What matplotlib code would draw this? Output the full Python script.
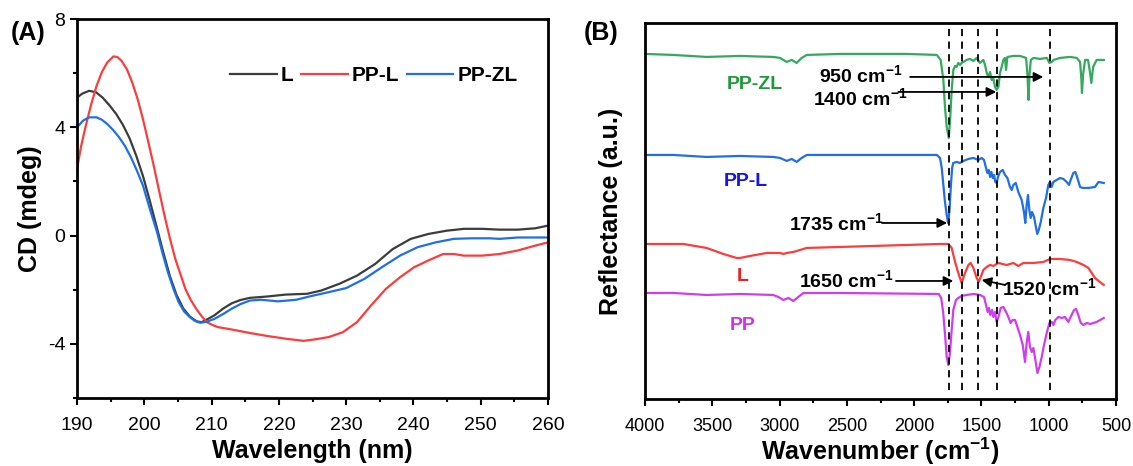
from matplotlib import pyplot as plt
from matplotlib.ticker import MultipleLocator
import numpy as np

plt.rcParams['font.family'] = ['Liberation Sans', 'DejaVu Sans']
plt.rcParams['axes.unicode_minus'] = False
plt.rcParams['mathtext.fontset'] = 'custom'
plt.rcParams['mathtext.rm'] = 'Liberation Sans'
plt.rcParams['mathtext.bf'] = 'Liberation Sans:bold'
plt.rcParams['mathtext.it'] = 'Liberation Sans:italic'

# ---- (A) CD spectra ----
wl_L = [190, 190.8, 191.8, 192.8, 193.8, 194.8, 195.8, 196.8, 197.8, 198.8, 199.8, 200.8,
        201.8, 202.8, 203.8, 204.8, 205.8, 206.8, 207.8, 208.5, 209.3, 210.4, 211.7, 213,
        214.3, 215.7, 218.3, 221, 224.2, 226.3, 229, 231.6, 234.3, 236.9, 239.6, 242.2,
        244.9, 247.5, 250.2, 252.8, 255.5, 258.1, 260]
cd_L = [5.1, 5.25, 5.35, 5.3, 5.1, 4.82, 4.5, 4.1, 3.6, 2.95, 2.2, 1.3,
        0.35, -0.6, -1.5, -2.2, -2.7, -3.0, -3.17, -3.2, -3.1, -2.95, -2.7, -2.5,
        -2.38, -2.3, -2.25, -2.18, -2.15, -2.03, -1.78, -1.48, -1.05, -0.5, -0.12, 0.06,
        0.18, 0.25, 0.25, 0.22, 0.22, 0.27, 0.37]

wl_PPL = [190, 190.6, 191.3, 192.1, 192.9, 193.7, 194.5, 195.4, 196.0, 196.6, 197.4, 198.2,
          199.0, 199.8, 200.6, 201.4, 202.2, 203, 203.8, 204.6, 205.4, 206.1, 206.9, 207.7,
          208.5, 209.3, 210.1, 210.9, 213, 215.7, 218.3, 221, 223.7, 225.2, 227.4, 229.5,
          231.6, 233.7, 235.9, 238, 240.1, 242.2, 244.4, 246, 247.5, 250.2, 252.8, 255.5,
          258.1, 260]
cd_PPL = [2.46, 3.3, 4.06, 4.85, 5.53, 6.05, 6.4, 6.62, 6.6, 6.46, 6.15, 5.66,
          5.05, 4.3, 3.45, 2.58, 1.65, 0.74, -0.1, -0.86, -1.45, -1.97, -2.38, -2.7,
          -2.97, -3.2, -3.3, -3.38, -3.47, -3.6, -3.71, -3.81, -3.89, -3.84, -3.75, -3.57,
          -3.2, -2.58, -1.97, -1.54, -1.17, -0.92, -0.68, -0.68, -0.74, -0.74, -0.68, -0.55,
          -0.37, -0.25]

wl_PPZL = [190, 190.9, 191.8, 192.9, 193.7, 194.5, 195.3, 196.2, 197.1, 198.0, 198.9, 199.8,
           200.8, 201.9, 202.7, 203.5, 204.3, 205.1, 205.9, 206.7, 207.5, 208.3, 209.3, 210.4,
           211.7, 213, 214.3, 215.7, 217.3, 219.9, 222.6, 224.7, 227.4, 230, 232.7, 235.3,
           238, 240.6, 243.3, 246, 248.6, 251.3, 252.8, 255.5, 260]
cd_PPZL = [4.0, 4.25, 4.37, 4.37, 4.28, 4.12, 3.92, 3.65, 3.32, 2.9, 2.4, 1.85,
           1.0, 0.12, -0.65, -1.35, -1.95, -2.46, -2.8, -3.0, -3.15, -3.22, -3.18, -3.08,
           -2.9, -2.7, -2.53, -2.4, -2.37, -2.43, -2.37, -2.24, -2.09, -1.94, -1.6, -1.17,
           -0.74, -0.43, -0.25, -0.12, -0.1, -0.1, -0.12, -0.07, -0.07]

# ---- (B) FTIR spectra (offset, a.u.) ----
wn_PPZL = [4000, 3790, 3542, 3294, 3047, 2997, 2947, 2910, 2873, 2836, 2798, 2551, 2055, 1832,
           1803, 1783, 1771, 1758, 1743, 1734, 1721, 1709, 1696, 1684, 1672, 1659, 1647, 1634,
           1610, 1585, 1560, 1535, 1511, 1486, 1473, 1461, 1449, 1436, 1424, 1412, 1399, 1387,
           1374, 1362, 1350, 1337, 1325, 1317, 1307, 1262, 1213, 1168, 1158, 1150, 1143, 1133,
           1113, 1064, 1014, 995, 977, 964, 915, 842, 792, 767, 757, 753, 745, 730, 708, 696,
           683, 670, 644, 591]
r_PPZL = [346, 345, 343, 344, 343, 342, 338, 340, 337, 342, 345, 346, 346, 345,
          340, 320, 293, 273, 262, 277, 310, 330, 334, 333, 337, 335, 337, 338,
          340, 341, 339, 342, 337, 340, 335, 327, 323, 328, 320, 322, 313, 310,
          313, 327, 333, 340, 342, 330, 343, 344, 344, 342, 325, 300, 325, 340,
          342, 341, 342, 337, 338, 340, 342, 343, 342, 338, 320, 307, 325, 340, 340, 330,
          317, 333, 340, 340]

wn_PPL = [4000, 3790, 3542, 3294, 3047, 2997, 2947, 2910, 2873, 2836, 2798, 2551, 2055, 1832,
          1808, 1795, 1783, 1771, 1758, 1748, 1738, 1728, 1718, 1709, 1684, 1659, 1634, 1597,
          1560, 1523, 1498, 1481, 1466, 1456, 1446, 1436, 1426, 1416, 1406, 1397, 1387, 1377,
          1362, 1342, 1325, 1307, 1288, 1275, 1263, 1245, 1226, 1201, 1184, 1174, 1164, 1154,
          1144, 1134, 1124, 1109, 1094, 1085, 1074, 1059, 1040, 1020, 1003, 990, 978, 966,
          941, 916, 891, 867, 849, 837, 817, 802, 787, 767, 747, 730, 705, 656, 630, 591]
r_PPL = [245, 245, 243, 244, 243, 242, 239, 241, 238, 242, 245, 245, 245, 245,
         242, 232, 215, 198, 185, 177, 188, 212, 232, 237, 238, 237, 239, 241,
         242, 240, 242, 240, 232, 227, 230, 223, 228, 222, 225, 218, 217, 223,
         228, 230, 225, 222, 213, 210, 215, 217, 208, 200, 188, 177, 195, 205,
         190, 182, 188, 183, 172, 166, 170, 178, 192, 202, 215, 218, 213, 218,
         220, 222, 221, 218, 215, 220, 227, 228, 222, 213, 212, 212, 212, 213, 218, 217]

wn_L = [4000, 3715, 3542, 3418, 3319, 3294, 3220, 3096, 2997, 2972, 2947, 2898, 2798, 2551,
        2303, 2055, 1808, 1746, 1721, 1696, 1672, 1647, 1622, 1597, 1580, 1560, 1535, 1520,
        1505, 1486, 1461, 1436, 1412, 1374, 1312, 1263, 1226, 1189, 1114, 1040, 990, 916,
        842, 792, 742, 705, 656, 620, 591]
r_L = [156, 156, 152, 146, 142, 142, 144, 147, 147, 146, 147, 148, 152, 153,
       154, 155, 156, 156, 152, 138, 127, 117, 127, 135, 137, 132, 122, 118,
       123, 130, 133, 135, 134, 137, 135, 137, 134, 137, 137, 138, 141, 141,
       140, 138, 135, 132, 122, 118, 115]

wn_PP = [4000, 3790, 3542, 3294, 3047, 3009, 2972, 2935, 2898, 2861, 2824, 2551, 1817, 1799,
         1784, 1769, 1758, 1746, 1734, 1721, 1709, 1689, 1672, 1647, 1610, 1560, 1511, 1481,
         1466, 1454, 1444, 1434, 1421, 1412, 1399, 1387, 1374, 1357, 1337, 1317, 1300, 1283,
         1268, 1250, 1233, 1213, 1193, 1176, 1164, 1152, 1139, 1126, 1114, 1099, 1084, 1069,
         1052, 1035, 1015, 995, 977, 966, 951, 928, 904, 879, 854, 837, 812, 797, 780, 762,
         742, 717, 692, 644, 591]
r_PP = [107, 107, 105, 106, 105, 103, 100, 102, 99, 103, 107, 107, 106, 102,
        87, 63, 43, 35, 47, 70, 90, 100, 102, 104, 105, 106, 105, 103,
        95, 88, 92, 85, 90, 83, 88, 78, 83, 92, 93, 88, 83, 77,
        80, 80, 73, 65, 55, 38, 57, 68, 53, 48, 52, 40, 27, 33,
        43, 55, 67, 77, 78, 75, 80, 83, 82, 83, 78, 83, 90, 91, 85, 77,
        75, 77, 76, 78, 82]

peak_lines = [1741, 1647, 1524, 1387, 991]

fig = plt.figure(figsize=(11.33, 4.66), dpi=100)
axA = fig.add_axes([0.068, 0.146, 0.4157, 0.813])
axB = fig.add_axes([0.5693, 0.1438, 0.4157, 0.807])

# panel A
axA.plot(wl_L, cd_L, color='#3c3c3c', lw=1.6, label='L')
axA.plot(wl_PPL, cd_PPL, color='#ff3b3b', lw=1.6, label='PP-L')
axA.plot(wl_PPZL, cd_PPZL, color='#1f6fe6', lw=1.6, label='PP-ZL')
axA.set_xlim(190, 260)
axA.set_ylim(-6, 8)
axA.xaxis.set_major_locator(MultipleLocator(10))
axA.xaxis.set_minor_locator(MultipleLocator(5))
axA.yaxis.set_major_locator(MultipleLocator(4))
axA.yaxis.set_minor_locator(MultipleLocator(2))
axA.tick_params(which='major', direction='out', length=5, width=1.5, labelsize=14)
axA.tick_params(axis='x', which='major', pad=9)
axA.tick_params(which='minor', direction='out', length=3, width=1.5)
axA.set_xlabel('Wavelength (nm)', fontsize=18, fontweight='bold', labelpad=3)
axA.set_ylabel('CD (mdeg)', fontsize=18, fontweight='bold', labelpad=4)
axA.legend(loc='center right', bbox_to_anchor=(0.936, 0.85), ncol=3, frameon=False,
           prop={'weight': 'bold', 'size': 15}, handlelength=2.25, handletextpad=0.2,
           columnspacing=0.35, borderpad=0, borderaxespad=0)
for s in axA.spines.values():
    s.set_linewidth(2)

# panel B
axB.plot(wn_PPZL, r_PPZL, color='#33aa5e', lw=1.6)
axB.plot(wn_PPL, r_PPL, color='#1f6fe6', lw=1.6)
axB.plot(wn_L, r_L, color='#ff3b3b', lw=1.6)
axB.plot(wn_PP, r_PP, color='#d23cf0', lw=1.6)
for p in peak_lines:
    axB.axvline(p, ymin=0.024, ymax=0.995, color='k', ls=(0, (4, 3)), lw=1.3)
axB.set_xlim(4000, 500)
axB.set_ylim(1, 377)
axB.set_yticks([])
axB.xaxis.set_major_locator(MultipleLocator(500))
axB.xaxis.set_minor_locator(MultipleLocator(250))
axB.tick_params(which='major', direction='out', length=5, width=1.5, labelsize=13, pad=9)
axB.tick_params(which='minor', direction='out', length=3, width=1.5)
axB.set_xlabel(r'Wavenumber (cm$^{\mathbf{-1}}$)', fontsize=18, fontweight='bold', labelpad=0)
axB.set_ylabel('Reflectance (a.u.)', fontsize=18, fontweight='bold', labelpad=16)
for s in axB.spines.values():
    s.set_linewidth(2)

axB.text(3183, 315, 'PP-ZL', color='#1f9a3a', fontsize=14, fontweight='bold', ha='center', va='center')
axB.text(3250, 218, 'PP-L', color='#1515e8', fontsize=14, fontweight='bold', ha='center', va='center')
axB.text(3277, 123, 'L', color='#f02020', fontsize=14, fontweight='bold', ha='center', va='center')
axB.text(3277, 74, 'PP', color='#cc33ee', fontsize=14, fontweight='bold', ha='center', va='center')

arrow = dict(arrowstyle='-|>', color='k', lw=1.3, mutation_scale=14, shrinkA=0, shrinkB=0)
bold = dict(fontsize=14, fontweight='bold', ha='center', va='center')
axB.text(2395, 325, r'950 cm$^{\mathbf{-1}}$', **bold)
axB.annotate('', xy=(1040, 323), xytext=(2030, 323), arrowprops=arrow)
axB.text(2399, 302, r'1400 cm$^{\mathbf{-1}}$', **bold)
axB.annotate('', xy=(1390, 308), xytext=(2117, 308), arrowprops=arrow)
axB.text(2580, 177, r'1735 cm$^{\mathbf{-1}}$', **bold)
axB.annotate('', xy=(1755, 177), xytext=(2239, 177), arrowprops=arrow)
axB.text(2503, 120, r'1650 cm$^{\mathbf{-1}}$', **bold)
axB.annotate('', xy=(1709, 119), xytext=(2135, 119), arrowprops=arrow)
axB.text(998, 112, r'1520 cm$^{\mathbf{-1}}$', **bold)
axB.annotate('', xy=(1498, 120), xytext=(1325, 115), arrowprops=arrow)

fig.text(0.025, 0.929, '(A)', fontsize=18, fontweight='bold', ha='center', va='center')
fig.text(0.531, 0.929, '(B)', fontsize=18, fontweight='bold', ha='center', va='center')

fig.savefig('out.png', dpi=100)
